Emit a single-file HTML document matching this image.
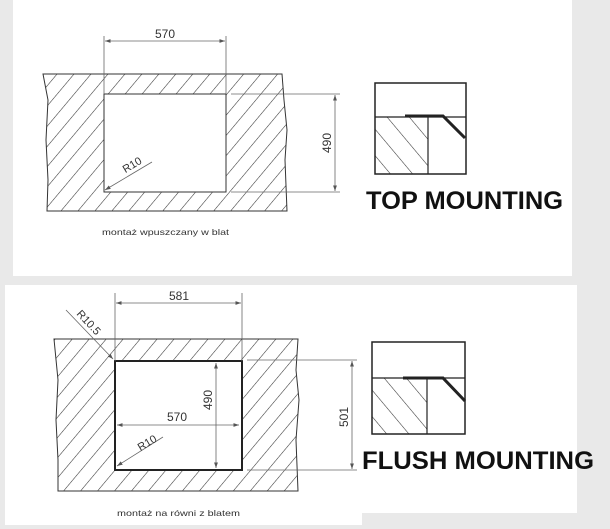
<!DOCTYPE html>
<html><head><meta charset="utf-8"><style>
html,body{margin:0;padding:0;background:#e9e9e9;}
svg{display:block;}
text{font-family:"Liberation Sans",sans-serif;fill:#333;}
</style></head><body>
<svg width="610" height="529" viewBox="0 0 610 529" xmlns="http://www.w3.org/2000/svg">
<defs>
<pattern id="h1" patternUnits="userSpaceOnUse" width="13" height="13" patternTransform="rotate(40)">
<line x1="0" y1="0" x2="0" y2="13" stroke="#333" stroke-width="1.1"/>
</pattern>
<pattern id="h2" patternUnits="userSpaceOnUse" width="17" height="17" patternTransform="rotate(-40)">
<line x1="0" y1="0" x2="0" y2="17" stroke="#333" stroke-width="1.1"/>
</pattern>
<marker id="a" viewBox="0 0 10 10" refX="10" refY="5" markerWidth="7" markerHeight="7" orient="auto-start-reverse">
<path d="M0,1.5 L10,5 L0,8.5 Z" fill="#555"/>
</marker>
</defs>
<rect width="610" height="529" fill="#e9e9e9"/>
<rect x="13" y="0" width="559" height="276" fill="#fff"/>
<rect x="5" y="285" width="572" height="228" fill="#fff"/>
<rect x="5" y="513" width="357" height="12" fill="#fff"/>

<!-- TOP -->
<path fill-rule="evenodd" fill="url(#h1)" stroke="#333" stroke-width="1"
 d="M43,74 L282,74 L284,100 L287,130 L285,160 L287,211 L47,211 L48,180 L46,140 L48,100 Z M104,94 L226,94 L226,192 L104,192 Z"/>
<rect x="104" y="94" width="122" height="98" fill="#fff" stroke="#333" stroke-width="1"/>
<g stroke="#666" stroke-width="0.8" fill="none">
<line x1="104" y1="36" x2="104" y2="94"/><line x1="226" y1="36" x2="226" y2="94"/>
<line x1="105" y1="41" x2="225" y2="41" marker-start="url(#a)" marker-end="url(#a)"/>
<line x1="231" y1="94" x2="340" y2="94"/><line x1="231" y1="192" x2="340" y2="192"/>
<line x1="335" y1="95" x2="335" y2="191" marker-start="url(#a)" marker-end="url(#a)"/>
<line x1="152" y1="162" x2="105" y2="190" marker-end="url(#a)"/>
</g>
<text x="165" y="38" font-size="12" text-anchor="middle">570</text>
<text transform="translate(331,143) rotate(-90)" font-size="12" text-anchor="middle">490</text>
<text transform="translate(134,168) rotate(-31)" font-size="11" text-anchor="middle">R10</text>
<text x="102" y="235" font-size="8.5" textLength="127" lengthAdjust="spacingAndGlyphs">montaż wpuszczany w blat</text>

<rect x="375" y="117" width="53" height="57" fill="url(#h2)"/>
<rect x="375" y="83" width="91" height="91" fill="none" stroke="#222" stroke-width="1.5"/>
<line x1="375" y1="117" x2="466" y2="117" stroke="#222" stroke-width="1.2"/>
<line x1="428" y1="117" x2="428" y2="174" stroke="#222" stroke-width="1.2"/>
<path d="M405,116 L443,116 L465,138" fill="none" stroke="#222" stroke-width="3"/>
<text x="366" y="209" font-size="25" font-weight="bold" textLength="197" lengthAdjust="spacingAndGlyphs" style="fill:#111">TOP MOUNTING</text>

<!-- BOTTOM -->
<path fill-rule="evenodd" fill="url(#h1)" stroke="#333" stroke-width="1"
 d="M54,339 L298,339 L296,370 L299,400 L296,440 L298,491 L58,491 L58,460 L56,420 L58,380 Z M115,361 L242,361 L242,470 L115,470 Z"/>
<rect x="115" y="361" width="127" height="109" fill="#fff" stroke="#222" stroke-width="2"/>
<g stroke="#666" stroke-width="0.8" fill="none">
<line x1="115" y1="293" x2="115" y2="361"/><line x1="242" y1="293" x2="242" y2="361"/>
<line x1="116" y1="303" x2="241" y2="303" marker-start="url(#a)" marker-end="url(#a)"/>
<line x1="66" y1="310" x2="113" y2="359" marker-end="url(#a)"/>
<line x1="216" y1="363" x2="216" y2="468" marker-start="url(#a)" marker-end="url(#a)"/>
<line x1="117" y1="425" x2="239" y2="425" marker-start="url(#a)" marker-end="url(#a)"/>
<line x1="163" y1="437" x2="117" y2="466" marker-end="url(#a)"/>
<line x1="247" y1="360" x2="357" y2="360"/><line x1="247" y1="470" x2="357" y2="470"/>
<line x1="352" y1="361" x2="352" y2="469" marker-start="url(#a)" marker-end="url(#a)"/>
</g>
<text x="179" y="300" font-size="12" text-anchor="middle">581</text>
<text transform="translate(86,325) rotate(47)" font-size="11" text-anchor="middle">R10.5</text>
<text transform="translate(212,400) rotate(-90)" font-size="12" text-anchor="middle">490</text>
<text x="177" y="421" font-size="12" text-anchor="middle">570</text>
<text transform="translate(149,446) rotate(-31)" font-size="11" text-anchor="middle">R10</text>
<text transform="translate(348,417) rotate(-90)" font-size="12" text-anchor="middle">501</text>
<text x="117" y="516" font-size="8.5" textLength="123" lengthAdjust="spacingAndGlyphs">montaż na równi z blatem</text>

<rect x="372" y="378" width="55" height="56" fill="url(#h2)"/>
<rect x="372" y="342" width="93" height="92" fill="none" stroke="#222" stroke-width="1.5"/>
<line x1="372" y1="378" x2="465" y2="378" stroke="#222" stroke-width="1.2"/>
<line x1="427" y1="378" x2="427" y2="434" stroke="#222" stroke-width="1.2"/>
<path d="M403,378 L443,378 L465,401" fill="none" stroke="#222" stroke-width="3"/>
<text x="362" y="469" font-size="25" font-weight="bold" textLength="232" lengthAdjust="spacingAndGlyphs" style="fill:#111">FLUSH MOUNTING</text>
</svg>
</body></html>
